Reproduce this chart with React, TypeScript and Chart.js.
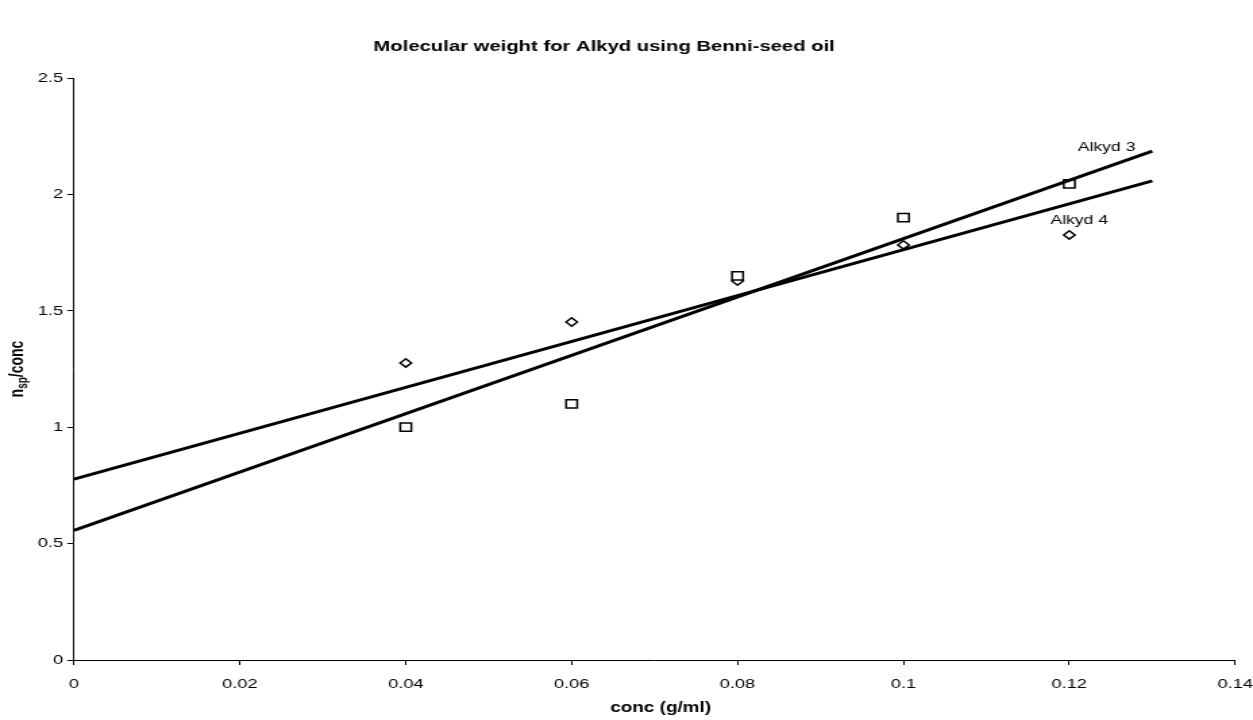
import React, { useEffect, useRef } from "react";
import { Chart, registerables } from "chart.js";

Chart.register(...registerables);

// ---- data ----
const concValues = [0.04, 0.06, 0.08, 0.1, 0.12];
const alkyd3Values = [1.0, 1.1, 1.65, 1.9, 2.045];
const alkyd4Values = [1.276, 1.452, 1.628, 1.783, 1.826];
const trendX = [0, 0.13];
const alkyd3Trend = [0.557, 2.186];
const alkyd4Trend = [0.777, 2.058];
const seriesNames = ["Alkyd 3", "Alkyd 4"];
const seriesLabelX = [0.1245, 0.1212];
const seriesLabelY = [2.2, 1.89];
const xTicks = [0, 0.02, 0.04, 0.06, 0.08, 0.1, 0.12, 0.14];
const yTicks = [0, 0.5, 1, 1.5, 2, 2.5];
const chartTitle = "Molecular weight for Alkyd using Benni-seed oil";
const xTitle = "conc (g/ml)";

// ---- layout ----
const STRETCH = 1.35;
const SCREEN_W = 1253;
const SCREEN_H = 720;
const W = Math.round(SCREEN_W / STRETCH);
const FONT = "'Liberation Sans', Arial, sans-serif";

const overlay = {
  id: "overlay",
  afterDraw(chart: any) {
    const ctx = chart.ctx as CanvasRenderingContext2D;
    const area = chart.chartArea;
    const xs = chart.scales.x;
    const ys = chart.scales.y;
    ctx.save();
    ctx.fillStyle = "#000";
    // title
    ctx.font = `bold 15px ${FONT}`;
    ctx.textAlign = "center";
    ctx.textBaseline = "middle";
    ctx.fillText(chartTitle, 604 / STRETCH, 47);
    // x title
    ctx.font = `bold 14px ${FONT}`;
    ctx.fillText(xTitle, (area.left + area.right) / 2 + 6 / STRETCH, 708);
    // series labels
    ctx.font = `13px ${FONT}`;
    seriesNames.forEach((n, i) => {
      ctx.fillText(n, xs.getPixelForValue(seriesLabelX[i]), ys.getPixelForValue(seriesLabelY[i]));
    });
    // y title with subscript
    ctx.translate(17 / STRETCH + 4, (area.top + area.bottom) / 2);
    ctx.rotate(-Math.PI / 2);
    ctx.textAlign = "left";
    ctx.textBaseline = "alphabetic";
    const big = `bold 14px ${FONT}`;
    const small = `bold 10px ${FONT}`;
    ctx.font = big;
    const w1 = ctx.measureText("n").width;
    const w3 = ctx.measureText("/conc").width;
    ctx.font = small;
    const w2 = ctx.measureText("sp").width;
    let x = -(w1 + w2 + w3) / 2;
    ctx.font = big;
    ctx.fillText("n", x, 0);
    x += w1;
    ctx.font = small;
    ctx.fillText("sp", x, 3);
    x += w2;
    ctx.font = big;
    ctx.fillText("/conc", x, 0);
    ctx.restore();
  },
};

export default function App() {
  const ref = useRef<HTMLCanvasElement | null>(null);
  useEffect(() => {
    if (!ref.current) return;
    const pts = (ys: number[], xsArr: number[]) => xsArr.map((x, i) => ({ x, y: ys[i] }));
    const chart = new Chart(ref.current, {
      type: "scatter",
      data: {
        datasets: [
          {
            label: "Alkyd 3 trend",
            data: pts(alkyd3Trend, trendX),
            showLine: true,
            borderColor: "#000",
            borderWidth: 3,
            pointRadius: 0,
          },
          {
            label: "Alkyd 4 trend",
            data: pts(alkyd4Trend, trendX),
            showLine: true,
            borderColor: "#000",
            borderWidth: 3,
            pointRadius: 0,
          },
          {
            label: seriesNames[0],
            data: pts(alkyd3Values, concValues),
            pointStyle: "rect",
            pointRadius: 5.8,
            borderColor: "#000",
            backgroundColor: "#fff",
            borderWidth: 1.5,
          },
          {
            label: seriesNames[1],
            data: pts(alkyd4Values, concValues),
            pointStyle: "rectRot",
            pointRadius: 4.2,
            borderColor: "#000",
            backgroundColor: "#fff",
            borderWidth: 1.5,
          },
        ],
      },
      options: {
        responsive: false,
        animation: false,
        devicePixelRatio: 1,
        layout: { padding: { top: 78, right: W - 1235 / STRETCH, left: 0, bottom: 0 } },
        plugins: { legend: { display: false }, tooltip: { enabled: false }, title: { display: false } },
        scales: {
          x: {
            type: "linear",
            min: 0,
            max: 0.14,
            afterBuildTicks: (s: any) => {
              s.ticks = xTicks.map((v) => ({ value: v }));
            },
            afterFit: (s: any) => {
              s.height = SCREEN_H - 660;
              s.paddingLeft = 0;
              s.paddingRight = 0;
            },
            grid: { display: true, drawOnChartArea: false, drawTicks: true, tickLength: 5, color: "#000" },
            border: { display: true, color: "#000", width: 1 },
            ticks: {
              color: "#000",
              font: { family: FONT, size: 13.5 },
              padding: 11,
              maxRotation: 0,
              autoSkip: false,
              callback: (v: any) => String(Number(Number(v).toFixed(2))),
            },
          },
          y: {
            type: "linear",
            min: 0,
            max: 2.5,
            afterBuildTicks: (s: any) => {
              s.ticks = yTicks.map((v) => ({ value: v }));
            },
            afterFit: (s: any) => {
              s.width = 74 / STRETCH;
              s.paddingTop = 0;
              s.paddingBottom = 0;
            },
            grid: { display: true, drawOnChartArea: false, drawTicks: true, tickLength: 5, color: "#000" },
            border: { display: true, color: "#000", width: 1 },
            ticks: {
              color: "#000",
              font: { family: FONT, size: 13.5 },
              padding: 3,
              autoSkip: false,
              callback: (v: any) => String(Number(Number(v).toFixed(2))),
            },
          },
        },
      },
      plugins: [overlay],
    });
    return () => chart.destroy();
  }, []);
  return (
    <div style={{ position: "absolute", left: 0, top: 0, width: SCREEN_W, height: SCREEN_H, background: "#fff" }}>
      <canvas
        ref={ref}
        width={W}
        height={SCREEN_H}
        style={{ width: SCREEN_W + "px", height: SCREEN_H + "px", display: "block" }}
      />
    </div>
  );
}
